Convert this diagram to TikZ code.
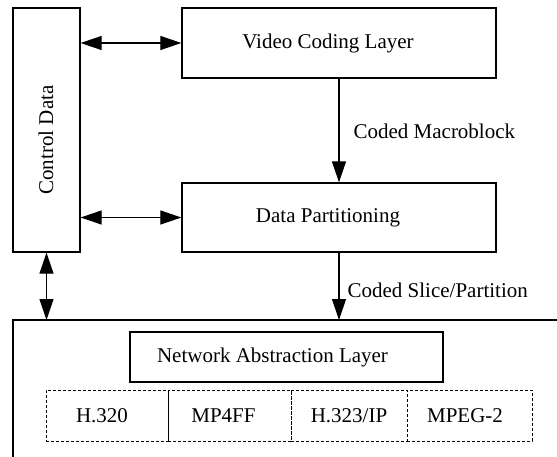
\documentclass[tikz,border=0pt]{standalone}
\usepackage{fontspec}
\setmainfont{Liberation Serif}
\usetikzlibrary{arrows.meta}
\begin{document}
\begin{tikzpicture}[x=1pt,y=-1pt,
  every node/.style={font=\fontsize{21}{25}\selectfont, inner sep=0pt},
  box/.style={draw, line width=1.3pt, rectangle},
  cell/.style={draw, line width=1pt, dash pattern=on 3pt off 2pt, rectangle, minimum width=#1, minimum height=51pt},
  conn/.style={line width=1.2pt},
  tip/.style={-{Triangle[length=21pt,width=14pt]}},
  dtip/.style={{Triangle[length=21pt,width=14pt]}-{Triangle[length=21pt,width=14pt]}}]
\useasboundingbox (0,0) rectangle (557,457);
% Control Data
\node[box, minimum width=67pt, minimum height=244pt] (cd) at (46.5,130) {};
\node[rotate=90] (cdt) at (46,140) {Control Data};
% Video coding layer
\node[box, minimum width=314pt, minimum height=70pt] (vcl) at (339,43) {Video Coding Layer\hspace*{22pt}};
% Data Partitioning
\node[box, minimum width=314pt, minimum height=69pt] (dp) at (339,217.5) {Data Partitioning\hspace*{22pt}};
% outer box (open on right and bottom)
\coordinate (otl) at (13,320);
\coordinate (obl) at (13,457);
\coordinate (otr) at (557,320);
\draw[line width=1.3pt] (obl) -- (otl) -- (otr);
\coordinate (ctrlin) at (46.5,320);
\coordinate (dpin) at (339,320);
% NAL
\node[box, minimum width=313pt, minimum height=50pt] (nal) at (286.5,357) {Network Abstraction Layer\hspace*{28pt}};
% cells
\node[cell=122pt] (c1) at (107,415.5) {H.320\hspace*{10pt}};
\node[cell=123pt] (c2) at (229.5,415.5) {MP4FF\hspace*{12pt}};
\node[cell=116pt] (c3) at (349,415.5) {H.323/IP};
\node[cell=125pt] (c4) at (469.5,415.5) {MPEG-2\hspace*{9pt}};
% connectors
\draw[conn, dtip] (cd.east |- vcl.west) -- (vcl.west);
\draw[conn, dtip] (cd.east |- dp.west) -- (dp.west);
\draw[conn, tip] (vcl.south) -- node[right=14pt, yshift=-0.5pt] {Coded Macroblock} (dp.north);
\draw[conn, tip] (dp.south) -- node[right=8pt, yshift=-4pt] {Coded Slice/Partition} (dpin);
\draw[conn, dtip] (cd.south) -- (ctrlin);
\end{tikzpicture}
\end{document}
